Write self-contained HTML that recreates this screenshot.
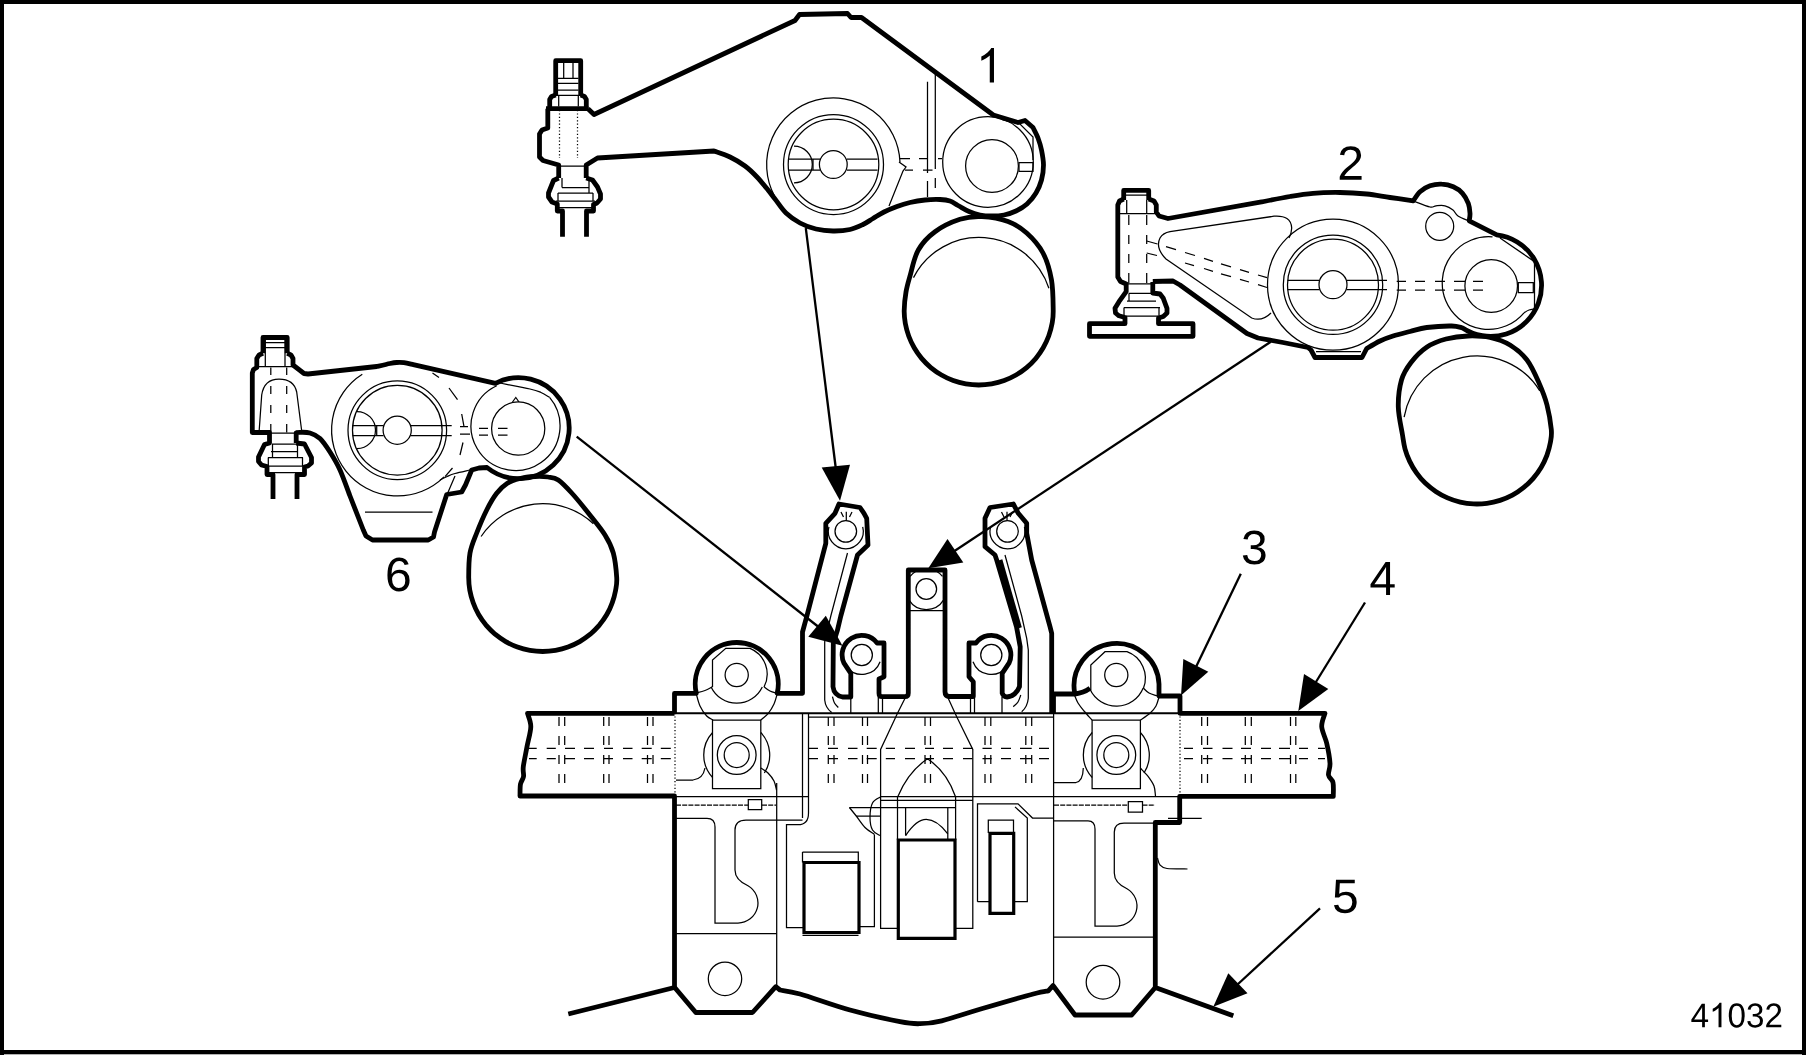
<!DOCTYPE html><html><head><meta charset="utf-8"><title>41032</title><style>html,body{margin:0;padding:0;background:#fff;}svg{display:block;}text{font-family:"Liberation Sans",sans-serif;fill:#000;stroke:none;}</style></head><body><svg width="1806" height="1055" viewBox="0 0 1806 1055" fill="none" stroke="#000" stroke-linecap="butt" stroke-linejoin="miter">
<rect x="0" y="0" width="1806" height="1055" fill="#fff" stroke="none"/>
<g stroke-width="1.25" ><path d="M563.7,62 V78 M573,62 V78 M558,78.3 H578.5 M558,83.3 H578.5 M558,90 H578.5 M553,95.3 H583.5 M558.7,95 V106.5 M578.3,95 V106.5"/><path d="M560,166 H585 M562,187.5 H589 M558,193 H593 M556,201 H595 M559,207.5 H592 M562,178 V187.5 M589,180 V193 M558,193 V201 M593,193 V201"/><path d="M774.4,195.8 A66.7,66.7 0 1 1 900,162.2"/><path d="M783.5,164.5 a50,50 0 1 0 100,0 a50,50 0 1 0 -100,0Z"/><path d="M788.2,164.5 a45.3,45.3 0 1 0 90.6,0 a45.3,45.3 0 1 0 -90.6,0Z"/><path d="M819.4,164.5 a13.9,13.9 0 1 0 27.8,0 a13.9,13.9 0 1 0 -27.8,0Z"/><path d="M789,159.2 H820 M789,170 H820 M847,159.2 H877.5 M847,170 H877.5 M813,159.2 V170"/><path d="M794,146.2 A18.3,18.3 0 0 1 794,182.8"/><path d="M899,162 L906,167 L903,171 L889,206"/><path d="M900,158.7 H910 M919,158.7 H927 M938,158.7 H942 M905,170 H913 M923,170 H932.5"/><path d="M927.5,81.7 V173 M927.5,181 V197 M935.3,74 V169 M935.3,178 V188"/><path d="M942.7,162 a45.3,45.3 0 1 0 90.6,0 a45.3,45.3 0 1 0 -90.6,0Z"/><path d="M965.6,166 a26.4,26.4 0 1 0 52.8,0 a26.4,26.4 0 1 0 -52.8,0Z"/><path d="M1019,162.5 H1033 V171.3 H1019Z"/><path d="M998,116.5 L1003,120 L1020,124 L1033,137 L1033,160"/><path d="M913.5,277.6 A73.5,73.5 0 0 1 1048.9,288.3"/><path d="M1126,195 H1147 M1117.8,213.7 H1156 M1126.7,200 V213.7 M1146.7,200 V213.7 M1126,283.8 H1152.8"/><path d="M1128.8,215 V225 M1128.8,235 V244 M1128.8,254 V263 M1128.8,273 V283 M1146.7,215 V225 M1146.7,235 V244 M1146.7,254 V263 M1146.7,273 V283"/><path d="M1129,293.3 H1152 M1129,293.3 V301 M1127,301 H1156 M1124,307.5 H1160 M1126,316 H1158 M1124,307.5 V322 M1159,307.5 V322"/><path d="M1271,313 Q1262,322 1251.7,318 L1166,259 Q1155,248 1160,238 Q1163,233 1170,231.7 L1274,216.2 Q1291,215 1291.7,228 Q1291.5,234 1289,238"/><path d="M1146.7,241 L1157.5,244 M1146.7,253 L1157,255.5"/><path d="M1166,246.6 L1176,249.7 M1185,252.5 L1195,255.5 M1204,258.3 L1213,261.3 M1221,263.8 L1231,266.8 M1240,269.6 L1249,272.4 M1258,275 L1267,277.7"/><path d="M1185,263 L1194,265.7 M1204,268.5 L1213,271.3 M1221,273.8 L1231,276.6 M1240,279.4 L1249,282 M1258,284.7 L1267,287.5"/><path d="M1267.5,284.7 a65.5,65.5 0 1 0 131,0 a65.5,65.5 0 1 0 -131,0Z"/><path d="M1283.3,284.7 a49.7,49.7 0 1 0 99.4,0 a49.7,49.7 0 1 0 -99.4,0Z"/><path d="M1287.5,284.7 a45.5,45.5 0 1 0 91,0 a45.5,45.5 0 1 0 -91,0Z"/><path d="M1319,284.7 a14,14 0 1 0 28,0 a14,14 0 1 0 -28,0Z"/><path d="M1287.5,280.3 H1319.3 M1287.5,289.7 H1319.3 M1346.7,280.3 H1387 M1346.7,289.7 H1387"/><path d="M1396.7,281.3 H1406 M1415,281.3 H1425 M1435,281.3 H1445 M1454,281.3 H1465 M1473,281.3 H1483 M1396.7,290 H1406 M1415,290 H1425 M1435,290 H1445 M1454,290 H1465 M1473,290 H1483"/><path d="M1316,351.5 H1361"/><path d="M1413.3,201 C1416.1,202 1426.2,206.2 1430,207 C1433.8,207.8 1433.5,206 1436,205.8 C1438.5,205.6 1442.2,205.1 1445,205.8 C1447.8,206.5 1450.8,208.3 1453,210 C1455.2,211.7 1455.3,214.2 1458,216 C1460.7,217.8 1467.2,220.2 1469,221"/><path d="M1425.7,226.3 a14,14 0 1 0 28,0 a14,14 0 1 0 -28,0Z"/><path d="M1524,312.8 A46.3,46.3 0 1 1 1492.5,236.9"/><path d="M1464.9,286 a26.3,26.3 0 1 0 52.6,0 a26.3,26.3 0 1 0 -52.6,0Z"/><path d="M1518.3,282.5 H1533.3 V292.5 H1518.3Z"/><path d="M1500,238 L1534.5,261.7 L1534.5,309"/><path d="M1534.5,309 C1533.6,309.2 1530.8,309.4 1529,310 C1527.2,310.6 1524.8,312.3 1524,312.8"/><path d="M1404.1,417.2 A74,74 0 0 1 1539.8,390.8"/><path d="M265,342.5 H285.5 M265,347.5 H285.5 M265.3,340 V367 M285,340 V367 M255,366.7 H295 M270,433 H296"/><path d="M270.8,367.5 V375 M270.8,386 V394 M270.8,405 V413 M270.8,424 V432.5 M286.7,367.5 V375 M286.7,386 V394 M286.7,405 V413 M286.7,424 V432.5"/><path d="M259,433 L261.7,395 Q264,379 279,379 Q294,379 296.7,392 L301.7,431"/><path d="M272,444 H297 M271,451.7 H298 M268,457.5 H303 M268,466 H303 M270,472.5 H300 M272.5,444 V457 M297.5,444 V457 M268.3,457.5 V466 M302.5,457.5 V466"/><path d="M444,476.9 A66,66 0 1 1 362.3,374.2"/><path d="M348,430.2 a49.3,49.3 0 1 0 98.6,0 a49.3,49.3 0 1 0 -98.6,0Z"/><path d="M352.5,430.2 a44.8,44.8 0 1 0 89.6,0 a44.8,44.8 0 1 0 -89.6,0Z"/><path d="M383.1,430.2 a14.1,14.1 0 1 0 28.2,0 a14.1,14.1 0 1 0 -28.2,0Z"/><path d="M352.5,425.5 H383.5 M352.5,435.5 H383.5 M411,425.5 H451.7 M411,435.5 H451.7 M376.7,425.5 V435.5"/><path d="M357,411.5 A18.5,18.5 0 0 1 357,448.5"/><path d="M432.5,373 L439,377.5 M449,388 L457.5,399.7 M461.7,414 L464,426.7 M460,426.7 H468 M460,434 H470 M463,442.5 L460,455 M452.5,468 L445,476.7"/><path d="M440,480 C441.1,479.4 444.2,477.8 446.7,476.7 C449.2,475.6 451.1,474.6 455,473.5 C458.9,472.4 467.5,470.6 470,470"/><path d="M455,476 L447.5,493.5 M365,512 H432.5"/><path d="M549.6,397.4 A44.5,44.5 0 1 1 496.7,385.7"/><path d="M491.6,428.5 a26.6,26.6 0 1 0 53.2,0 a26.6,26.6 0 1 0 -53.2,0Z"/><path d="M512.5,402 L515.8,397.5 L519,402"/><path d="M496.7,382.5 C502.2,383.6 522.6,387.3 530,389 C537.4,390.7 537.7,391.1 541,392.5 C544.3,393.9 548.2,396.6 549.6,397.4"/><path d="M479,428.3 H488 M498,428.3 H507.5 M479,435 H488 M498,435 H507.5"/><path d="M481.1,536.5 A74.3,74.3 0 0 1 593.4,523.7"/><path d="M676,796.7 H808 M880,796.7 H1180 M809,717 H1053.3 M880.6,800.3 H972.8 M849.4,807.5 H955.6"/><path d="M802.5,713 V818 M808.5,713 V813 M1053.6,713 V985 M776.7,783 V986.7"/><path d="M835,531.3 a10.8,10.8 0 1 0 21.6,0 a10.8,10.8 0 1 0 -21.6,0Z"/><path d="M862.7,526.8 A17.5,17.5 0 1 1 828.9,526.8"/><path d="M996.7,531.3 a10.8,10.8 0 1 0 21.6,0 a10.8,10.8 0 1 0 -21.6,0Z"/><path d="M1024.4,526.8 A17.5,17.5 0 1 1 990.6,526.8"/><path d="M846.3,511.7 V520.8 M841,512 L843.5,517 M852,512 L849.5,517 M1007,511.7 V520.8 M1001.5,512 L1004,517 M1012.5,512 L1010,517"/><path d="M847.5,553 L830.8,616 L824.7,641.7 L824.7,700 Q825.5,708 831.7,712.5"/><path d="M832.5,696.7 C832.8,697.8 833.5,701.2 834.5,703 C835.5,704.8 837.7,706.8 838.3,707.5"/><path d="M1005,555 L1021.7,616 L1026.7,638.3 L1028.3,650 L1028.3,698.3 Q1027.5,707 1021.7,711.7"/><path d="M1020.8,695 C1020.3,696.2 1019.2,700 1018,702 C1016.8,704 1014.1,705.9 1013.3,706.7"/><path d="M850.8,697 V713 M878.3,697 V713 M882.5,697 V713 M970.5,697 V713 M974.5,697 V713 M1002,697 V713"/><path d="M851.2,655 a10.6,10.6 0 1 0 21.2,0 a10.6,10.6 0 1 0 -21.2,0Z"/><path d="M980.7,655 a10.6,10.6 0 1 0 21.2,0 a10.6,10.6 0 1 0 -21.2,0Z"/><path d="M880.1,661.7 A19.5,19.5 0 0 1 846.9,667.5"/><path d="M1006.2,667.5 A19.5,19.5 0 0 1 973,661.7"/><path d="M916,589 a10.3,10.3 0 1 0 20.6,0 a10.3,10.3 0 1 0 -20.6,0Z"/><path d="M943.7,599.9 A20.5,20.5 0 0 1 908.9,599.9"/><path d="M910,610.5 H943"/><path d="M936.5,571.2 A20.5,20.5 0 0 1 942.5,576.4"/><path d="M910.1,576.4 A20.5,20.5 0 0 1 916,571.2"/><path d="M905.8,696.7 L897.5,713.3 L880.6,749.4 L880.6,928.3 L898,928.3"/><path d="M947.5,696.7 L956.7,716.7 L972.8,749.4 L972.8,928.3 L955,928.3"/><path d="M898,796.3 Q908,772 927.5,758.7 Q947,772 955.3,796.3"/><path d="M897.5,796.9 V840 M955.6,796.9 V840 M905.6,807.5 V835.6 M947.8,807.5 V840"/><path d="M905.6,835.6 C912,826 919,819.4 926.3,819.4 C934,819.4 941,825 947.8,833.8"/><path d="M880.6,796.9 C879.2,797.9 874.3,799.6 872.5,803 C870.7,806.4 870,813 870,817.5 C870,822 870.8,827 872.5,830 C874.2,833 878.8,834.7 880,835.6"/><path d="M849.4,807.5 L856.3,816 H880.6"/><path d="M856.3,816 C857.8,817.9 862,824.4 865,827.5 C868,830.6 872.8,833.2 874.4,834.4"/><path d="M874.4,834.4 V926.7 H859"/><path d="M725.1,675 a11.6,11.6 0 1 0 23.2,0 a11.6,11.6 0 1 0 -23.2,0Z"/><path d="M724.2,755 a12.5,12.5 0 1 0 25,0 a12.5,12.5 0 1 0 -25,0Z"/><path d="M717.3,755 a19.4,19.4 0 1 0 38.8,0 a19.4,19.4 0 1 0 -38.8,0Z"/><path d="M712.5,720 H760.8 V788.5 H712.5Z"/><path d="M712.6,777.5 A33,33 0 0 1 712.6,732.5"/><path d="M760.8,732.5 A33,33 0 0 1 764.4,773"/><path d="M1104.7,675 a11.6,11.6 0 1 0 23.2,0 a11.6,11.6 0 1 0 -23.2,0Z"/><path d="M1103.8,755 a12.5,12.5 0 1 0 25,0 a12.5,12.5 0 1 0 -25,0Z"/><path d="M1096.9,755 a19.4,19.4 0 1 0 38.8,0 a19.4,19.4 0 1 0 -38.8,0Z"/><path d="M1092.1,720 H1140.4 V788.5 H1092.1Z"/><path d="M1092.2,777.5 A33,33 0 0 1 1092.2,732.5"/><path d="M1140.4,732.5 A33,33 0 0 1 1144,773"/><path d="M712.5,687 V660 L725.8,648.3 H750 A28,28 0 0 1 764,687"/><path d="M762.3,687 A28.3,28.3 0 0 1 711.1,687"/><path d="M696,693 C697.5,692.6 702.2,691.5 705,690.5 C707.8,689.5 711.2,687.3 712.5,686.7"/><path d="M764,686.7 C765,687.4 767.8,689.9 770,691 C772.2,692.1 775.8,692.9 777,693.3"/><path d="M696.3,694 C696.9,696 698.3,702.3 700,706 C701.7,709.7 704.5,713.7 706.7,716 C708.9,718.3 712,719.3 713,720"/><path d="M777.2,694 C776.7,695.7 775.5,700.8 774,704 C772.5,707.2 770.5,710.6 768.3,713.3 C766.1,716 762,718.9 760.8,720"/><path d="M1090.8,690 V665 L1105,651.7 H1127 A28,28 0 0 1 1143.5,688"/><path d="M1143.2,687.9 A29,29 0 0 1 1090,689.3"/><path d="M1143.3,688 C1144.2,688.8 1146.7,691.7 1149,693 C1151.3,694.3 1155.7,695.5 1157,696"/><path d="M1074,694 C1074.7,695.5 1076.3,700.2 1078,703 C1079.7,705.8 1081.7,708.2 1084,711 C1086.3,713.8 1090.7,718.5 1092,720"/><path d="M1159,697 C1158.5,698.5 1157.5,703.3 1156,706 C1154.5,708.7 1152.6,711 1150,713.3 C1147.4,715.6 1142.1,718.9 1140.5,720"/><path d="M760.8,768 C762,768.8 765.8,770.8 768,773 C770.2,775.2 772.6,778.2 774,781 C775.4,783.8 776.1,788.5 776.5,790"/><path d="M676,780 H693 Q703,779 705,768"/><path d="M1140.5,768.3 C1141.8,769.7 1146,773.8 1148.3,776.7 C1150.5,779.7 1152.8,782.8 1154,786 C1155.2,789.2 1155.2,794.3 1155.5,796"/><path d="M1053.6,782.5 H1076 Q1083,781 1083.3,768"/><path d="M748.3,799.5 H761.7 V809.7 H748.3Z M1128.3,801.5 H1142.5 V812 H1128.3Z"/><path d="M676,818.3 H707 Q715,818.3 715,827 V923 H738 A20,20 0 0 0 748,885.7 Q735,880 735,870 V830 Q735,820 746,820 H802.5"/><path d="M808.5,813 Q808.5,824.7 798,824.7 H786.5 V927.5 H804"/><path d="M1053.6,820.8 H1088 Q1095,820.8 1095,829 V926 H1117 A20,20 0 0 0 1127,888.7 Q1114.3,883 1114.3,873 V832 Q1114.3,823 1124,823 H1155"/><path d="M676,933.5 H776.7 M1053.6,937 H1155 M802.5,852 H858.3 V862.5 M802.5,852 V862.5 M802.5,935.3 H858.5"/><path d="M708.3,978.8 a16.7,16.7 0 1 0 33.4,0 a16.7,16.7 0 1 0 -33.4,0Z"/><path d="M1086.2,982.2 a16.8,16.8 0 1 0 33.6,0 a16.8,16.8 0 1 0 -33.6,0Z"/><path d="M977.5,901.7 V803.8 H1018 L1032.5,818 H1053.3 M1015,806.9 L1027.3,818 V901.7 H1013.7 M977.5,901.7 H990 M988.3,833 V820 H1013.5 V833"/><path d="M1168,818.3 H1201.7"/><path d="M1157.5,858 C1157.9,859.2 1158.4,863.2 1160,865 C1161.6,866.8 1162.4,867.8 1167,868.5 C1171.6,869.2 1184.1,868.9 1187.5,869"/><path d="M529,748.3 H536.7 M529,758.5 H536.7 M546.7,748.3 H555.8 M546.7,758.5 H555.8 M565,748.3 H575 M565,758.5 H575 M584,748.3 H594 M584,758.5 H594 M604,748.3 H613 M604,758.5 H613 M623,748.3 H632.5 M623,758.5 H632.5 M641.7,748.3 H651.7 M641.7,758.5 H651.7 M660.8,748.3 H670.8 M660.8,758.5 H670.8 M809,748.3 H818 M809,758.5 H818 M828,748.3 H838 M828,758.5 H838 M848,748.3 H857.5 M848,758.5 H857.5 M866.7,748.3 H876.7 M866.7,758.5 H876.7 M885.8,748.3 H895 M885.8,758.5 H895 M905,748.3 H915 M905,758.5 H915 M925,748.3 H934 M925,758.5 H934 M943,748.3 H953 M943,758.5 H953 M963,748.3 H972.5 M963,758.5 H972.5 M982.5,748.3 H991.7 M982.5,758.5 H991.7 M1001,748.3 H1011 M1001,758.5 H1011 M1020,748.3 H1031.7 M1020,758.5 H1031.7 M1039,748.3 H1049 M1039,758.5 H1049 M1184,748.3 H1193 M1184,758.5 H1193 M1203,748.3 H1212.5 M1203,758.5 H1212.5 M1222.5,748.3 H1232.5 M1222.5,758.5 H1232.5 M1241,748.3 H1251 M1241,758.5 H1251 M1261,748.3 H1271 M1261,758.5 H1271 M1279,748.3 H1290 M1279,758.5 H1290 M1299,748.3 H1308 M1299,758.5 H1308 M1318,748.3 H1325 M1318,758.5 H1325"/><path d="M559,717 V726 M559,736 V745 M559,755 V764 M559,774 V783 M564.7,717 V726 M564.7,736 V745 M564.7,755 V764 M564.7,774 V783 M603.7,717 V726 M603.7,736 V745 M603.7,755 V764 M603.7,774 V783 M609,717 V726 M609,736 V745 M609,755 V764 M609,774 V783 M647.5,717 V726 M647.5,736 V745 M647.5,755 V764 M647.5,774 V783 M653,717 V726 M653,736 V745 M653,755 V764 M653,774 V783 M828.3,717 V726 M828.3,736 V745 M828.3,755 V764 M828.3,774 V783 M834,717 V726 M834,736 V745 M834,755 V764 M834,774 V783 M862.5,717 V726 M862.5,736 V745 M862.5,755 V764 M862.5,774 V783 M867.5,717 V726 M867.5,736 V745 M867.5,755 V764 M867.5,774 V783 M925,717 V726 M925,736 V745 M925,755 V764 M925,774 V783 M930.5,717 V726 M930.5,736 V745 M930.5,755 V764 M930.5,774 V783 M985,717 V726 M985,736 V745 M985,755 V764 M985,774 V783 M990.8,717 V726 M990.8,736 V745 M990.8,755 V764 M990.8,774 V783 M1025.8,717 V726 M1025.8,736 V745 M1025.8,755 V764 M1025.8,774 V783 M1031.7,717 V726 M1031.7,736 V745 M1031.7,755 V764 M1031.7,774 V783 M1201.7,717 V726 M1201.7,736 V745 M1201.7,755 V764 M1201.7,774 V783 M1207.5,717 V726 M1207.5,736 V745 M1207.5,755 V764 M1207.5,774 V783 M1245.3,717 V726 M1245.3,736 V745 M1245.3,755 V764 M1245.3,774 V783 M1251.3,717 V726 M1251.3,736 V745 M1251.3,755 V764 M1251.3,774 V783 M1290.5,717 V726 M1290.5,736 V745 M1290.5,755 V764 M1290.5,774 V783 M1295.8,717 V726 M1295.8,736 V745 M1295.8,755 V764 M1295.8,774 V783"/></g>
<g stroke-width="1.25" stroke-dasharray="1.2 2.2"><path d="M559.5,110 V158 M577.5,110 V158"/><path d="M675,713 V796 M1180,713 V796"/></g>
<g stroke-width="2.3" ><path d="M805.8,228 L836,470"/><path d="M1270.8,341.7 L953,552"/><path d="M576.7,436.7 L818,626.5"/><path d="M1240.8,573.7 L1195.5,668"/><path d="M1365,602.5 L1315,683.5"/><path d="M1320,908.3 L1237,985"/></g>
<g stroke-width="3.2" ><path d="M804,862.5 H859 V932.5 H804Z"/><path d="M898.3,840 H955 V938.3 H898.3Z"/><path d="M990,833.3 H1013.7 V913.3 H990Z"/></g>
<g stroke-width="4.8" stroke-linejoin="round"><path d="M555.7,95 L555.7,60.7 L580.7,60.7 L580.7,95"/><path d="M555.7,95 L551.5,96.5 L549.7,99.5 L549.7,108.7"/><path d="M580.7,95 L584.5,96.5 L586.3,99.5 L586.3,108.7"/><path d="M546,108.7 L588.5,108.7"/><path d="M588,108.7 L594,114.5 L795,20.5 L799.5,14.5 L847.5,13.5 L851,17.5 L861.5,17.5 L993.3,115 L1018,122.5 L1025,120.5 L1033,127.5 C1033.8,129.2 1036.6,134.2 1038,138 C1039.4,141.8 1040.6,145.5 1041.5,150 C1042.4,154.5 1043.5,160 1043.5,165 C1043.5,170 1042.8,175.3 1041.5,180 C1040.2,184.7 1038.4,189 1036,193 C1033.6,197 1030.3,201 1027,204 C1023.7,207 1019.8,209.2 1016,211 C1012.2,212.8 1008,214.2 1004,215 C1000,215.8 996,216 992,216 C988,216 983.8,215.8 980,215 C976.2,214.2 972.7,213.1 969,211.5 C965.3,209.9 961.2,207.2 958,205.5 C954.8,203.8 953,202 950,201 C947,200 944.2,199.7 940,199.5 C935.8,199.3 930,199.5 925,200 C920,200.5 914.7,201.4 910,202.5 C905.3,203.6 901.3,204.9 897,206.5 C892.7,208.1 888,210 884,212 C880,214 876.5,216.4 873,218.5 C869.5,220.6 866.8,222.7 863,224.5 C859.2,226.3 855,228.4 850,229.5 C845,230.6 838.7,231.1 833,231 C827.3,230.9 821.5,230.3 816,229 C810.5,227.7 805,225.7 800,223 C795,220.3 790.2,217 786,213 C781.8,209 778,202.8 775,199 C772,195.2 771,193.7 768,190 C765,186.3 760.8,181 757,177 C753.2,173 749.5,169.3 745,166 C740.5,162.7 735.2,159.5 730,157 C724.8,154.5 716.7,152 714,151 L597.5,158 L586.2,165 L586.2,178"/><path d="M547.8,108.7 L547.8,128 L542,130 L539.5,134 L539.5,157 L543,160.5 L558.7,165 L558.7,178"/><path d="M558.7,178 L553.5,180.5 L548.5,193 L548.5,197 L552,202 L557.3,204 L557.3,211 L562.5,211 L562.5,236.7"/><path d="M586.2,178 L592.5,180 L597.5,187 L600.5,194 L600.5,199 L597,203 L593.5,204.5 L593.5,211 L586.5,211 L586.5,236.7"/><path d="M904.2,310.5 C904.3,305.3 905,297.8 906,292 C907,286.2 908,283 910,276 C912,269 914.1,257.4 918.3,250 C922.5,242.6 928,236.8 935,231.7 C942,226.6 952.2,221.8 960,219.3 C967.8,216.8 974,216.3 982,216.7 C990,217.1 1000.5,218.8 1008,221.5 C1015.5,224.2 1020.9,227.8 1026.7,233 C1032.5,238.2 1038.9,245.2 1043,253 C1047.1,260.8 1049.8,270.4 1051.5,280 C1053.2,289.6 1053.1,303.3 1053.2,310.5 C1053.3,317.7 1052.8,319.2 1052.1,323.4 C1051.3,327.7 1050.2,331.9 1048.7,336 C1047.2,340 1045.4,344 1043.2,347.8 C1041.1,351.5 1038.5,355.1 1035.8,358.4 C1033,361.7 1029.9,364.8 1026.6,367.6 C1023.3,370.3 1019.7,372.9 1016,375 C1012.2,377.2 1008.2,379 1004.2,380.5 C1000.1,382 995.9,383.1 991.6,383.9 C987.4,384.6 983,385 978.7,385 C974.4,385 970,384.6 965.8,383.9 C961.5,383.1 957.3,382 953.2,380.5 C949.2,379 945.2,377.2 941.5,375 C937.7,372.9 934.1,370.3 930.8,367.6 C927.5,364.8 924.4,361.7 921.6,358.4 C918.9,355.1 916.3,351.5 914.2,347.8 C912,344 910.2,340 908.7,336 C907.2,331.9 906.1,327.7 905.3,323.4 C904.6,319.2 904.1,315.7 904.2,310.5Z"/><path d="M1123.7,200 L1123.7,190.4 L1148.7,190.4 L1148.7,200"/><path d="M1123.7,199 L1119.5,201 L1117.8,205 L1117.8,277 L1120.5,281.5 L1126.2,284 L1126.2,291.7 L1119,301.7 L1115,308.3 L1115.5,313 L1119,315.8 L1125,317.5 L1125,323.7 L1089.5,323.7 L1089.5,336.3 L1193,336.3 L1193,323.7 L1158.5,323.7 L1158.5,318 L1163.3,316.5 L1167,313 L1167,308.3 L1163.3,298.3 L1160,294 L1152.8,293 L1152.8,282"/><path d="M1148.7,199 L1154,201 L1156.3,205 L1156.3,212 L1159,216 L1168,218.5 L1263,201.7 C1267.5,200.8 1281.7,197.9 1290,196.5 C1298.3,195.1 1304.7,194 1313,193.3 C1321.3,192.6 1331,192.4 1340,192.5 C1349,192.6 1358.4,193.2 1366.7,194 C1375,194.8 1382.2,196.4 1390,197.5 C1397.8,198.6 1409.4,200.2 1413.3,200.8 C1414.4,199.3 1417.2,194.2 1420,191.7 C1422.8,189.2 1426.4,187.1 1430,185.8 C1433.6,184.6 1437.8,184 1441.7,184.2 C1445.6,184.3 1449.8,185.2 1453.3,186.7 C1456.8,188.2 1460,190.5 1462.5,193.3 C1465,196.1 1467,200 1468.3,203.3 C1469.5,206.6 1469.8,210.4 1470,213.3 C1470.2,216.2 1469.3,219.6 1469.2,220.8 L1496.8,234.8 A51,51 0 1 1 1462.2,327.8 C1460.5,327.5 1457.6,326.1 1451.7,326 C1445.8,325.9 1433.7,326.6 1426.7,327.5 C1419.8,328.4 1415.6,330.1 1410,331.5 C1404.4,332.9 1398,334.4 1393,336 C1388,337.6 1384.4,338.9 1380,341 C1375.6,343.1 1368.9,347.2 1366.7,348.5 L1362,357.5 L1315,357.5 L1311,350 L1308,347.5 L1283,342.5 L1258,338 L1247,333.5 L1180,285 L1173,281 L1152.8,281.5"/><path d="M1402.5,435 C1401.4,428 1398.5,416.2 1398.3,407 C1398.1,397.8 1399.4,387.4 1401.5,380 C1403.6,372.6 1406.8,368 1411,362.5 C1415.2,357 1421.2,350.9 1427,347 C1432.8,343.1 1439.2,340.8 1446,339 C1452.8,337.2 1460.7,336.2 1468,336 C1475.3,335.8 1483,336 1490,337.5 C1497,339 1503.8,341.2 1510,345 C1516.2,348.8 1522.2,353.7 1527,360 C1531.8,366.3 1535.7,375.5 1539,383 C1542.3,390.5 1545,397.2 1547,405 C1549,412.8 1550.7,423.3 1551.3,429.5 C1551.9,435.7 1551.1,438.1 1550.4,442.4 C1549.6,446.8 1548.4,451.2 1546.9,455.4 C1545.3,459.6 1543.4,463.7 1541.1,467.5 C1538.8,471.3 1536.1,475 1533.2,478.4 C1530.3,481.7 1527,484.9 1523.5,487.7 C1520.1,490.5 1516.3,493 1512.4,495.1 C1508.4,497.2 1504.3,499 1500,500.4 C1495.8,501.7 1491.4,502.7 1486.9,503.3 C1482.5,503.9 1478,504.1 1473.5,503.9 C1469.1,503.7 1464.6,503.1 1460.2,502.1 C1455.9,501.1 1451.6,499.7 1447.5,497.9 C1443.4,496.1 1439.4,494 1435.7,491.5 C1432,489 1428.5,486.2 1425.2,483.1 C1422,480 1419.1,476.6 1416.5,472.9 C1413.9,469.3 1411.6,465.4 1409.7,461.4 C1407.8,457.4 1406.2,453.2 1405,448.8 C1403.8,444.4 1403.6,442 1402.5,435Z"/><path d="M263,353.3 L263,337.5 L287.2,337.5 L287.2,353.3"/><path d="M263,353.3 L259,355 L256.8,358.5 L256.8,367.5 L253.5,369.5 L252.3,373 L252.3,432.5 L269.5,432.5 L269.5,443 L264.5,444.5 L258.5,457 L258.5,461.5 L261.5,465 L267,466.5 L267,474.5 L273,474.5 L273,499"/><path d="M287.2,353.3 L291,355 L293,358.5 L293,365 L304,373.5 L308,374 L376.7,366.5 C378.9,366 386.7,364.2 390,363.5 C393.3,362.8 394.4,362.6 396.7,362.5 C399,362.4 401.2,362.3 404,362.7 C406.8,363.1 411.8,364.4 413.3,364.7 L495.5,383.3 A50.5,50.5 0 1 1 487,467.5 L479,468 L471.7,470 L465.5,485 L461.7,492 L446.7,494.5 L434.5,532 L433.5,537 L428.3,540 L372.5,540 L366,536 L363.3,530 L350,496 C348.3,491.7 343.3,477.3 340,470 C336.7,462.7 333.3,457.2 330,452 C326.7,446.8 323.3,441.7 320,438.5 C316.7,435.3 313.3,434 310,433 C306.7,432 302.3,432.3 300,432.3 C297.7,432.3 296.8,432.7 296.2,432.8 L296.2,443"/><path d="M296.2,443 L304.5,444 L311.5,457.5 L311.5,463 L308,466 L304.5,467 L304.5,474.5 L297,474.5 L297,499"/><path d="M468.7,577.5 C468.7,571.3 468.7,560.4 470,553 C471.3,545.6 473.9,540.2 476.7,533 C479.5,525.8 483.4,516.6 486.7,510 C490,503.4 493.3,497.7 496.7,493.3 C500.1,488.9 503.1,486 507,483.5 C510.9,481 515.3,479.7 520,478.5 C524.7,477.3 530.3,476.8 535,476.5 C539.7,476.2 544.1,476.4 548,477 C551.9,477.6 554.3,477.3 558.3,480 C562.2,482.7 566.7,487.5 571.7,493 C576.7,498.5 582.8,506 588.3,513 C593.8,520 600.8,528.3 605,535 C609.2,541.7 611.3,545.9 613.3,553 C615.2,560.1 616.3,571.3 616.7,577.5 C617.1,583.7 616.3,586.1 615.6,590.3 C614.8,594.6 613.7,598.8 612.2,602.8 C610.8,606.8 608.9,610.8 606.8,614.5 C604.6,618.2 602.1,621.8 599.4,625.1 C596.6,628.3 593.5,631.4 590.3,634.2 C587,636.9 583.4,639.4 579.7,641.6 C576,643.7 572,645.6 568,647 C564,648.5 559.8,649.6 555.5,650.4 C551.3,651.1 547,651.5 542.7,651.5 C538.4,651.5 534.1,651.1 529.9,650.4 C525.6,649.6 521.4,648.5 517.4,647 C513.4,645.6 509.4,643.7 505.7,641.6 C502,639.4 498.4,636.9 495.1,634.2 C491.9,631.4 488.8,628.3 486,625.1 C483.3,621.8 480.8,618.2 478.6,614.5 C476.5,610.8 474.6,606.8 473.2,602.8 C471.7,598.8 470.6,594.6 469.8,590.3 C469.1,586.1 468.7,583.7 468.7,577.5Z"/><path d="M674.5,713.3 H527.5 C528,715.5 530.9,721.1 530.8,726.7 C530.7,732.3 528.2,740 527,746.7 C525.8,753.4 523.9,761.7 523.3,766.7 C522.7,771.7 524,773.8 523.5,776.7 C523,779.6 521.1,780.8 520.5,784 C519.9,787.2 520.1,794 520,796 H674.5 V987.5 L568.3,1014"/><path d="M674.5,713.3 V693.3 H696.3 A41.5,41.5 0 1 1 777.2,693.3 H802.5 V632 L806.7,616.7 L825.8,543.3 L825.8,523.3 L835,513.3 L839,504 L860,507.5 L864,513.3 L866.7,518.3 L868,545 L857.5,555 L840.8,616 L837.5,630 L833.3,643.3 L833,686.7 Q834,695 842.5,697 L850.8,697 L850.8,673.3 L844,663.2 A19.5,19.5 0 0 1 877.1,643 L884,643 V676.7 L879,679 V693.3 Q879,696.7 882,696.7 H905 Q908.3,696.7 908.3,693 V570 H945 V691.7 Q945,696 949,696.5 H973.3 V681.7 L969,676.7 V643 H975.9 A19.5,19.5 0 0 1 1009,663.2 L1002.2,673.3 V693.3 Q1003.5,697 1007,697 Q1016,696 1019.5,686.7 L1020.2,646.7 L1016.5,626.7 L996.7,560 L995,555 L985,546.7 L985,518.3 L990,507.5 L1013.3,504 L1018.3,513.3 L1026.7,523.3 L1026.7,533.3 L1031.7,560 L1050,626.7 L1051.7,633.3 V713.3"/><path d="M1000,560 L1019.5,628"/><path d="M1051.7,694 H1075 Q1083.5,693 1090,688.3"/><path d="M1053.5,693 V713.3"/><path d="M1074.7,693.3 A42.5,42.5 0 1 1 1159,684 V696 H1180 V713.3 H1325 C1324.5,715.5 1321.4,721.7 1321.7,726.7 C1322,731.7 1325.3,737.2 1326.7,743.3 C1328.1,749.4 1329.7,758 1330,763.3 C1330.3,768.6 1328,771.8 1328.5,775 C1329,778.2 1332.2,779 1333,782.5 C1333.8,786 1333.2,794 1333.3,796.3 H1179.7 V822.5 H1155.3 V987.5 L1233.3,1015.8"/><path d="M674.7,987.5 L695.8,1012.5 H752.5 L775.8,986.7 L780,990 C783.3,990.7 788.3,990.7 800,994 C811.7,997.3 833.3,1005.4 850,1010 C866.7,1014.6 888.3,1019.4 900,1021.7 C911.7,1024 913,1023.9 920,1023.7 C927,1023.6 931.2,1023.4 941.7,1020.8 C952.2,1018.2 968,1012.8 983.3,1008.3 C998.6,1003.8 1022.5,996.9 1033.3,994 C1044.1,991.1 1045.8,991.3 1048.3,990.8 L1053,985.5 L1075,1015 H1131.7 L1155.3,987.5"/></g>
<path d="M840,500.8 L821.7,467.5 L850,464.7Z" fill="#000" stroke="none"/><path d="M928.3,568.3 L947.5,539 L963.3,562.5Z" fill="#000" stroke="none"/><path d="M842.5,645.8 L825.8,615.8 L808.3,636.7Z" fill="#000" stroke="none"/><path d="M1181,695.5 L1183.3,659 L1208.3,671.7Z" fill="#000" stroke="none"/><path d="M1298.3,711 L1304,674 L1328.3,689Z" fill="#000" stroke="none"/><path d="M1213.3,1006.7 L1228.3,973.3 L1247.5,993.3Z" fill="#000" stroke="none"/><path transform="translate(976.1,82.5) scale(0.02344,-0.02344)" d="M763,0 H583 V1147 Q518,1085 412.5,1023 Q307,961 223,930 V1104 Q374,1175 487,1276 Q600,1377 647,1472 H763 Z" fill="#000" stroke="none"/><path transform="translate(1337.3,179.7) scale(0.02344,-0.02344)" d="M103 0V127Q154 244 228 334Q301 423 382 496Q463 568 542 630Q622 692 686 754Q750 816 790 884Q829 952 829 1038Q829 1154 761 1218Q693 1282 572 1282Q457 1282 382 1220Q308 1157 295 1044L111 1061Q131 1230 254 1330Q378 1430 572 1430Q785 1430 900 1330Q1014 1229 1014 1044Q1014 962 976 881Q939 800 865 719Q791 638 582 468Q467 374 399 298Q331 223 301 153H1036V0Z" fill="#000" stroke="none"/><path transform="translate(1241,564) scale(0.02344,-0.02344)" d="M1049 389Q1049 194 925 87Q801 -20 571 -20Q357 -20 230 76Q102 173 78 362L264 379Q300 129 571 129Q707 129 784 196Q862 263 862 395Q862 510 774 574Q685 639 518 639H416V795H514Q662 795 744 860Q825 924 825 1038Q825 1151 758 1216Q692 1282 561 1282Q442 1282 368 1221Q295 1160 283 1049L102 1063Q122 1236 246 1333Q369 1430 563 1430Q775 1430 892 1332Q1010 1233 1010 1057Q1010 922 934 838Q859 753 715 723V719Q873 702 961 613Q1049 524 1049 389Z" fill="#000" stroke="none"/><path transform="translate(1369.4,595) scale(0.02344,-0.02344)" d="M881 319V0H711V319H47V459L692 1409H881V461H1079V319ZM711 1206Q709 1200 683 1153Q657 1106 644 1087L283 555L229 481L213 461H711Z" fill="#000" stroke="none"/><path transform="translate(1332,912.7) scale(0.02344,-0.02344)" d="M1053 459Q1053 236 920 108Q788 -20 553 -20Q356 -20 235 66Q114 152 82 315L264 336Q321 127 557 127Q702 127 784 214Q866 302 866 455Q866 588 784 670Q701 752 561 752Q488 752 425 729Q362 706 299 651H123L170 1409H971V1256H334L307 809Q424 899 598 899Q806 899 930 777Q1053 655 1053 459Z" fill="#000" stroke="none"/><path transform="translate(385,591) scale(0.02344,-0.02344)" d="M1049 461Q1049 238 928 109Q807 -20 594 -20Q356 -20 230 157Q104 334 104 672Q104 1038 235 1234Q366 1430 608 1430Q927 1430 1010 1143L838 1112Q785 1284 606 1284Q452 1284 368 1140Q283 997 283 725Q332 816 421 864Q510 911 625 911Q820 911 934 789Q1049 667 1049 461ZM866 453Q866 606 791 689Q716 772 582 772Q456 772 378 698Q301 625 301 496Q301 333 382 229Q462 125 588 125Q718 125 792 212Q866 300 866 453Z" fill="#000" stroke="none"/><path transform="translate(1690.6,1027.3) scale(0.01621,-0.01675)" d="M881 319V0H711V319H47V459L692 1409H881V461H1079V319ZM711 1206Q709 1200 683 1153Q657 1106 644 1087L283 555L229 481L213 461H711Z" fill="#000" stroke="none"/><path transform="translate(1709.1,1027.3) scale(0.01621,-0.01675)" d="M763,0 H583 V1147 Q518,1085 412.5,1023 Q307,961 223,930 V1104 Q374,1175 487,1276 Q600,1377 647,1472 H763 Z" fill="#000" stroke="none"/><path transform="translate(1727.5,1027.3) scale(0.01621,-0.01675)" d="M1059 705Q1059 352 934 166Q810 -20 567 -20Q324 -20 202 165Q80 350 80 705Q80 1068 198 1249Q317 1430 573 1430Q822 1430 940 1247Q1059 1064 1059 705ZM876 705Q876 1010 806 1147Q735 1284 573 1284Q407 1284 334 1149Q262 1014 262 705Q262 405 336 266Q409 127 569 127Q728 127 802 269Q876 411 876 705Z" fill="#000" stroke="none"/><path transform="translate(1746,1027.3) scale(0.01621,-0.01675)" d="M1049 389Q1049 194 925 87Q801 -20 571 -20Q357 -20 230 76Q102 173 78 362L264 379Q300 129 571 129Q707 129 784 196Q862 263 862 395Q862 510 774 574Q685 639 518 639H416V795H514Q662 795 744 860Q825 924 825 1038Q825 1151 758 1216Q692 1282 561 1282Q442 1282 368 1221Q295 1160 283 1049L102 1063Q122 1236 246 1333Q369 1430 563 1430Q775 1430 892 1332Q1010 1233 1010 1057Q1010 922 934 838Q859 753 715 723V719Q873 702 961 613Q1049 524 1049 389Z" fill="#000" stroke="none"/><path transform="translate(1764.5,1027.3) scale(0.01621,-0.01675)" d="M103 0V127Q154 244 228 334Q301 423 382 496Q463 568 542 630Q622 692 686 754Q750 816 790 884Q829 952 829 1038Q829 1154 761 1218Q693 1282 572 1282Q457 1282 382 1220Q308 1157 295 1044L111 1061Q131 1230 254 1330Q378 1430 572 1430Q785 1430 900 1330Q1014 1229 1014 1044Q1014 962 976 881Q939 800 865 719Q791 638 582 468Q467 374 399 298Q331 223 301 153H1036V0Z" fill="#000" stroke="none"/><path d="M674,713.3 H1180" stroke-width="2"/><path d="M676,805 H748 M762,805 H776 M1054,805 H1128 M1142.5,805 H1155" stroke-width="1.25" stroke-dasharray="5 1.2"/><g fill="#000" stroke="none"><rect x="0" y="0" width="1806" height="4"/><rect x="0" y="0" width="4" height="1055"/><rect x="1802" y="0" width="4" height="1055"/><rect x="0" y="1050" width="1806" height="4.3"/></g>
</svg></body></html>
